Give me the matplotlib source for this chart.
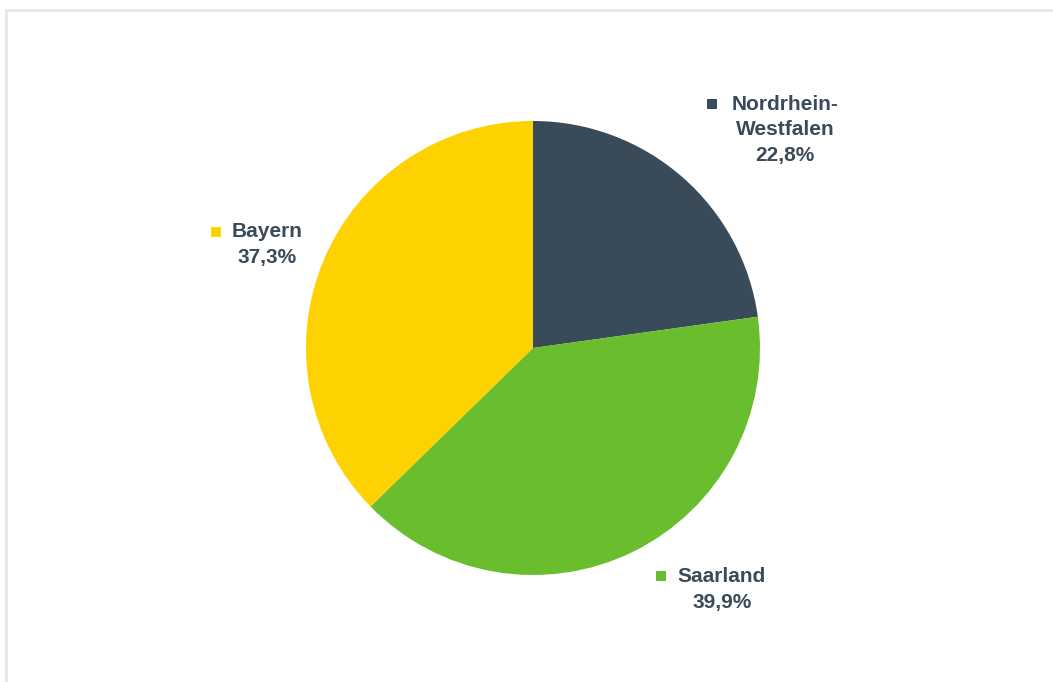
import matplotlib
matplotlib.use("Agg")
import matplotlib.pyplot as plt
from matplotlib.patches import Rectangle
from matplotlib.lines import Line2D

categories = ["Nordrhein-\nWestfalen", "Saarland", "Bayern"]
values = [22.8, 39.9, 37.3]
value_labels = ["22,8%", "39,9%", "37,3%"]
colors = ["#394a59", "#6abe2d", "#fed100"]
text_color = "#3a4a5a"

W, H = 1053, 682
cx, cy, R = 533, 348, 227  # pixel layout of pie

fig = plt.figure(figsize=(W / 100, H / 100), dpi=100)
ax = fig.add_axes([0, 0, 1, 1])
ax.pie(values, colors=colors, startangle=90, counterclock=False,
       radius=1.0, center=(0, 0), wedgeprops=dict(linewidth=0))
ax.set_aspect("auto")
ax.set_xlim(-cx / R, (W - cx) / R)
ax.set_ylim(-(H - cy) / R, cy / R)
ax.axis("off")

def px(x, y):
    return ((x - cx) / R, (cy - y) / R)

# label layout (pixel positions: marker centre, text centre x, first line centre y)
layout = [
    (712, 104, 785, 104),
    (661, 576, 722, 577),
    (216, 232, 267, 232),
]
line_h = 25.5
for (mx, my, tx, ty), cat, lab, col in zip(layout, categories, value_labels, colors):
    lines = cat.split("\n") + [lab]
    s = 10
    x0, y0 = px(mx - s / 2, my + s / 2)
    ax.add_patch(Rectangle((x0, y0), s / R, s / R, facecolor=col, edgecolor="none"))
    for i, ln in enumerate(lines):
        x, y = px(tx, ty + i * line_h)
        ax.text(x, y, ln, ha="center", va="center", fontsize=15,
                fontweight="bold", family="Liberation Sans", color=text_color)

# light frame
fig.add_artist(Line2D([6 / W, 6 / W], [0, 1 - 10 / H], transform=fig.transFigure,
                      color="#e6e6ea", linewidth=2))
fig.add_artist(Line2D([6 / W, 1], [1 - 10 / H, 1 - 10 / H], transform=fig.transFigure,
                      color="#e6e6ea", linewidth=2))

fig.savefig("out.png", dpi=100)
